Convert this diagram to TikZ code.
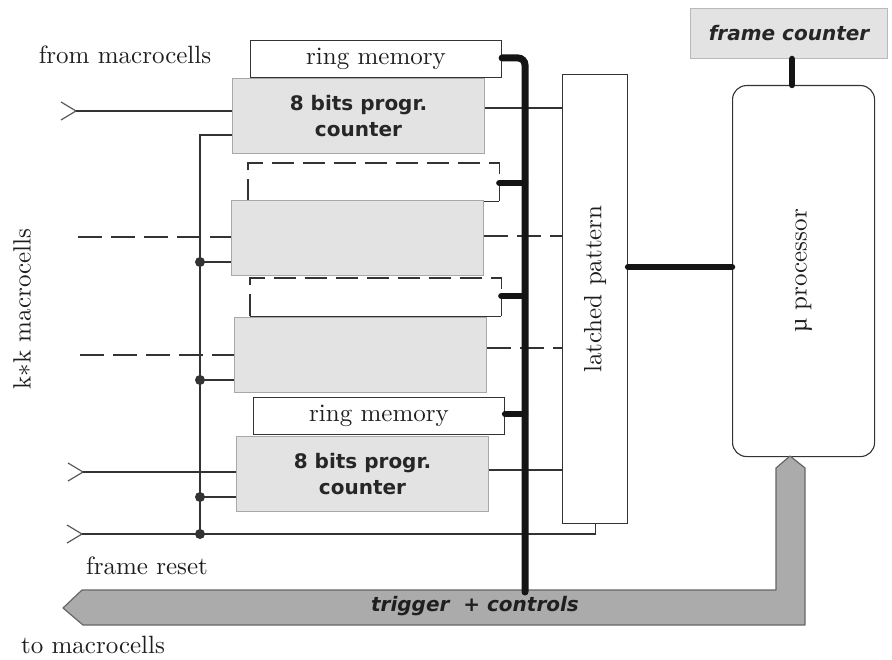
\documentclass[tikz,border=0pt]{standalone}
\usepackage{fontspec}
\setmainfont{lmroman10-regular}[Extension=.otf, ItalicFont=lmroman10-italic, BoldFont=lmroman10-bold]
\newfontfamily\lblsans{DejaVu Sans}
\newfontfamily\mufont{Liberation Serif}
\usetikzlibrary{calc}

\definecolor{boxgray}{HTML}{E3E3E3}
\definecolor{edgegray}{HTML}{A8A8A8}
\definecolor{bandgray}{HTML}{ABABAB}
\definecolor{ink}{HTML}{333333}
\definecolor{textink}{HTML}{1E1E1E}

\begin{document}
\begin{tikzpicture}[x=1pt,y=-1pt,
  serif/.style={font=\fontsize{25}{29}\selectfont, text=textink},
  sanslbl/.style={font=\lblsans\bfseries\fontsize{20}{26}\selectfont, text=black!85},
  ringbox/.style={draw=ink, fill=white, line width=1.1pt, anchor=north west,
    minimum width=251, minimum height=37, inner sep=0pt, serif},
  openbox/.style={draw=none, anchor=north west, minimum width=251,
    minimum height=38, inner sep=0pt},
  cntbox/.style={draw=edgegray, fill=boxgray, line width=1pt, anchor=north west,
    minimum width=252, minimum height=75, inner sep=0pt, align=center, sanslbl},
  wire/.style={draw=ink, line width=1.1pt},
  dwire/.style={draw=ink, line width=1.1pt, dash pattern=on 24pt off 9pt},
  dedge/.style={draw=ink, line width=1.1pt, dash pattern=on 22pt off 9pt},
  bus/.style={draw=black!92, line width=7pt, line cap=round},
  stub/.style={draw=black!92, line width=6.5pt, line cap=round},
  chev/.style={draw=black!65, line width=1.2pt},
  dot/.style={fill=ink},
]
\useasboundingbox (0,0) rectangle (892,660);

% ---- ring memories and counters -------------------------------------
\node[ringbox] (rm1) at (250,40) {ring memory};
\node[cntbox]  (cnt1) at (232,78) {8 bits progr.\\counter};

\node[openbox] (rm2) at (248,163) {};
\draw[dedge] (rm2.south west) -- (rm2.north west) -- (rm2.north east) -- (rm2.south east);
\draw[wire] (rm2.south west) -- (rm2.south east);
\node[cntbox]  (cnt2) at (231,200) {};

\node[openbox] (rm3) at (250,278) {};
\draw[dedge] (rm3.south west) -- (rm3.north west) -- (rm3.north east) -- (rm3.south east);
\draw[wire] (rm3.south west) -- (rm3.south east);
\node[cntbox]  (cnt3) at (234,317) {};

\node[ringbox] (rm4) at (253,397) {ring memory};
\node[cntbox]  (cnt4) at (236,436) {8 bits progr.\\counter};

% ---- latched pattern, processor, frame counter ----------------------
\node[draw=ink, line width=1.1pt, anchor=north west, minimum width=65,
  minimum height=449, inner sep=0pt] (latch) at (562,74) {};
\node[serif, rotate=90] (latchlbl) at ($(latch.center)+(0,-10)$) {latched pattern};

\node[draw=ink, line width=1.1pt, rounded corners=14pt, anchor=north west,
  minimum width=142, minimum height=371, inner sep=0pt] (proc) at (732,85) {};
\node[serif, rotate=90] (proclbl) at (proc.center) {{\mufont µ} processor};

\node[draw=edgegray!80, fill=boxgray, line width=1pt, anchor=north west,
  minimum width=197, minimum height=50, inner sep=0pt,
  font=\lblsans\bfseries\itshape\fontsize{20}{24}\selectfont, text=black!85]
  (fc) at (690,8) {frame counter};

% ---- side labels ----------------------------------------------------
\node[serif] (from) at (125,55) {from macrocells};
\node[serif, rotate=90] (kk) at (22,309) {k$\ast$k macrocells};
\node[serif] (reset) at (147,566) {frame reset};
\node[serif] (tomc) at (93,645) {to macrocells};

% ---- inputs ---------------------------------------------------------
\coordinate (in1) at (76,111);
\coordinate (in2) at (78,237);
\coordinate (in3) at (80,355);
\coordinate (in4) at (83,472);
\coordinate (in5) at (82,534);
\foreach \c in {in1,in4,in5}
  \draw[chev] (\c) ++(-15,-9) -- (\c) -- ++(-15,9);

\draw[wire] (in1) -- (cnt1.west |- in1);
\draw[dwire] (in2) -- (cnt2.west |- in2);
\draw[dwire] (in3) -- (cnt3.west |- in3);
\draw[wire] (in4) -- (cnt4.west |- in4);

% frame reset distribution
\coordinate (rtop) at (200,135);
\coordinate (rbot) at (200,534);
\draw[wire] (cnt1.west |- rtop) -- (rtop) -- (rbot);
\coordinate (j2) at (200,262);
\coordinate (j3) at (200,380);
\coordinate (j4) at (200,497);
\draw[wire] (j2) -- (cnt2.west |- j2);
\draw[wire] (j3) -- (cnt3.west |- j3);
\draw[wire] (j4) -- (cnt4.west |- j4);
\draw[wire] (in5) -| (latch.south);
\foreach \c in {j2,j3,j4,rbot}
  \fill[dot] (\c) circle (5);

% ---- counter outputs to latch ---------------------------------------
\draw[wire]  (cnt1.east |- 0,108) -- (latch.west |- 0,108);
\draw[dwire] (cnt2.east |- 0,236) -- (latch.west |- 0,236);
\draw[dwire] (cnt3.east |- 0,348) -- (latch.west |- 0,348);
\draw[wire]  (cnt4.east |- 0,470) -- (latch.west |- 0,470);

% ---- trigger + controls band ----------------------------------------
\draw[fill=bandgray, draw=black!60, line width=1.2pt, line join=round]
  (63,608) -- (82,590) -- (776,590) -- (776,468) -- (790,456)
  -- (805,468) -- (805,625) -- (83,625) -- cycle;
\node[font=\lblsans\bfseries\itshape\fontsize{20}{24}\selectfont, text=black!88]
  (trig) at (475,606) {trigger \ + controls};

% ---- thick bus ------------------------------------------------------
\coordinate (bustop) at (525,58);
\coordinate (busbot) at (525,592);
\draw[bus, rounded corners=7pt] (rm1.east |- bustop) -- (bustop) -- (busbot);
\draw[stub] (rm2.east |- 0,183) -- (bustop |- 0,183);
\draw[stub] (rm3.east |- 0,296) -- (bustop |- 0,296);
\draw[stub] (rm4.east |- 0,414) -- (bustop |- 0,414);

\draw[bus, line width=6.5pt] (latch.east |- 0,267) -- (proc.west |- 0,267);
\draw[bus, line width=6.5pt] (fc.south -| 792,0) -- (proc.north -| 792,0);
\end{tikzpicture}
\end{document}
